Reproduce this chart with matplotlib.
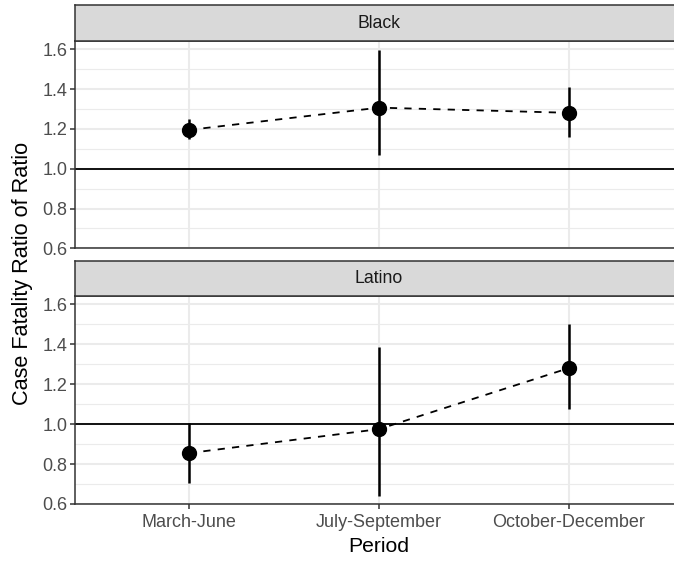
import numpy as np
import matplotlib
matplotlib.use("Agg")
import matplotlib.pyplot as plt

plt.rcParams['font.family'] = ['Liberation Sans', 'DejaVu Sans']

# =====================================
# Data: ratio estimates with intervals
# =====================================
periods = ['March-June', 'July-September', 'October-December']
groups = ['Black', 'Latino']

black_est = [1.195, 1.307, 1.281]
black_lo = [1.15, 1.067, 1.159]
black_hi = [1.25, 1.597, 1.411]

latino_est = [0.855, 0.975, 1.281]
latino_lo = [0.703, 0.638, 1.077]
latino_hi = [1.008, 1.387, 1.50]

series = {
    'Black': (black_est, black_lo, black_hi),
    'Latino': (latino_est, latino_lo, latino_hi),
}

W, H = 674, 563
fig = plt.figure(figsize=(W / 100, H / 100), dpi=100)


def px_box(left, right, top, bottom):
    return [left / W, 1 - bottom / H, (right - left) / W, (bottom - top) / H]


grey20 = '#333333'
grey30 = '#4d4d4d'
grid_col = '#ebebeb'

panels = [
    # strip top, strip bottom, panel bottom
    (5.3, 41.0, 248.3),
    (261.3, 296.0, 504.0),
]
left_px, right_px = 75, 683

x = np.arange(1, len(periods) + 1)

for i, (grp, (s_top, s_bot, p_bot)) in enumerate(zip(groups, panels)):
    est, lo, hi = series[grp]
    ax = fig.add_axes(px_box(left_px, right_px, s_bot, p_bot))
    ax.set_xlim(0.4, 3.6)
    ax.set_ylim(0.6, 1.642)

    ax.set_yticks([0.6, 0.8, 1.0, 1.2, 1.4, 1.6])
    ax.set_yticks([0.7, 0.9, 1.1, 1.3, 1.5], minor=True)
    ax.set_yticklabels(['0.6', '0.8', '1.0', '1.2', '1.4', '1.6'])
    ax.set_xticks(x)
    ax.grid(True, which='major', color=grid_col, lw=1.5, zorder=0)
    ax.grid(True, which='minor', axis='y', color=grid_col, lw=0.8, zorder=0)
    ax.set_axisbelow(True)
    ax.tick_params(which='minor', length=0)
    ax.tick_params(which='major', length=3.5, width=1.1, color=grey20,
                   labelsize=13, labelcolor=grey30, pad=2)
    ax.tick_params(axis='x', pad=4)
    for side in ax.spines.values():
        side.set_color(grey20)
        side.set_linewidth(1.1)

    if i == 1:
        ax.set_xticklabels(periods)
    else:
        ax.tick_params(axis='x', length=0, labelbottom=False)

    ax.axhline(1.0, color='black', lw=1.3, zorder=2)
    ax.vlines(x, lo, hi, color='black', lw=1.8, zorder=3)
    ax.plot(x, est, color='black', ls=(0, (4, 4)), lw=1.3, zorder=3)
    ax.plot(x, est, 'o', color='black', ms=10, zorder=4)

    # facet strip
    sax = fig.add_axes(px_box(left_px, right_px, s_top, s_bot))
    sax.set_facecolor('#d9d9d9')
    sax.set_xticks([])
    sax.set_yticks([])
    for side in sax.spines.values():
        side.set_color(grey20)
        side.set_linewidth(1.1)
    sax.text((379 - left_px) / (right_px - left_px), 0.5, grp,
             transform=sax.transAxes, ha='center', va='center',
             fontsize=12.7, color='#1a1a1a')

fig.text(23 / W, 1 - 273 / H, 'Case Fatality Ratio of Ratio', rotation=90,
         ha='center', va='center', fontsize=15.6)
fig.text(379 / W, 1 - 546 / H, 'Period', ha='center', va='center',
         fontsize=15.2)

fig.savefig('out.png', dpi=100)
